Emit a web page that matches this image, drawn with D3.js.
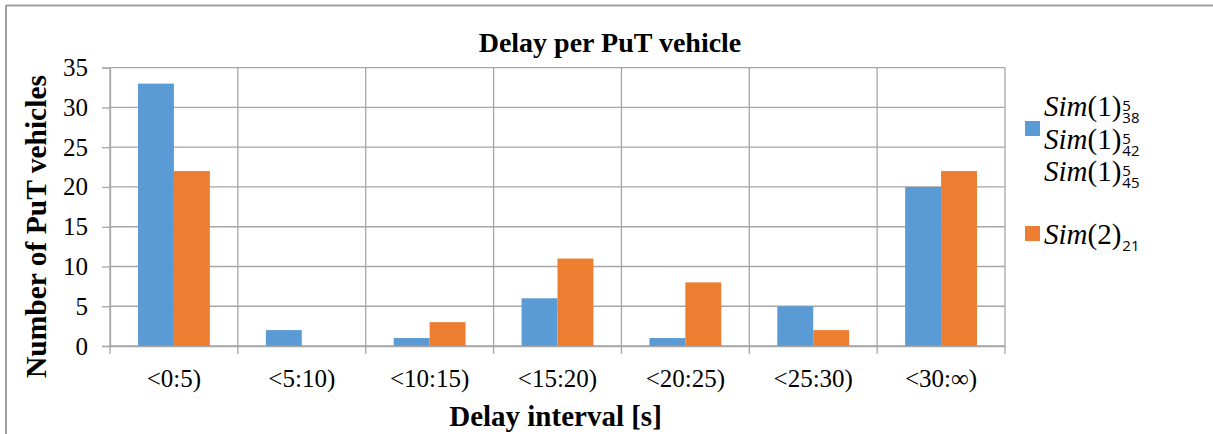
<!DOCTYPE html>
<html>
<head>
<meta charset="utf-8">
<script src="https://cdn.jsdelivr.net/npm/d3@7"></script>
<style>
  body { margin: 0; background: #fff; }
  svg { display: block; }
</style>
</head>
<body>
<div id="container"></div>
<script>
const categories = ["<0:5)", "<5:10)", "<10:15)", "<15:20)", "<20:25)", "<25:30)", "<30:\u221e)"];
const sim1Values = [33, 2, 1, 6, 1, 5, 20];
const sim2Values = [22, 0, 3, 11, 8, 2, 22];
const seriesNames = ["sim1", "sim2"];
const yTicks = [0, 5, 10, 15, 20, 25, 30, 35];

const w = 1213;
const h = 434;
const plot = { left: 110, right: 1005, top: 67.7, bottom: 346 };
const colors = { sim1: "#5b9bd5", sim2: "#ed7d31" };
const gridColor = "#a6a6a6";
const serif = "'Liberation Serif', 'Times New Roman', serif";

const svg = d3.select("#container")
              .append("svg")
              .attr("width", w)
              .attr("height", h);

// outer frame (only top and left edges are visible)
svg.append("line")
   .attr("x1", 6).attr("x2", w).attr("y1", 5.5).attr("y2", 5.5)
   .attr("stroke", "#a0a0a0").attr("stroke-width", 2);
svg.append("line")
   .attr("x1", 6).attr("x2", 6).attr("y1", 5).attr("y2", h)
   .attr("stroke", "#a0a0a0").attr("stroke-width", 2);

const x = d3.scaleBand()
            .domain(categories)
            .range([plot.left, plot.right])
            .padding(0);

const x1 = d3.scaleBand()
             .domain(seriesNames)
             .range([0, x.bandwidth()])
             .paddingInner(0)
             .paddingOuter(0.78);

const y = d3.scaleLinear()
            .domain([0, 35])
            .range([plot.bottom, plot.top]);

// horizontal gridlines
svg.append("g")
   .selectAll("line")
   .data(yTicks)
   .enter()
   .append("line")
   .attr("x1", plot.left)
   .attr("x2", plot.right)
   .attr("y1", d => y(d))
   .attr("y2", d => y(d))
   .attr("stroke", gridColor)
   .attr("stroke-width", 1.3);

// vertical gridlines at category boundaries
const bounds = categories.map(c => x(c)).concat([plot.right]);
svg.append("g")
   .selectAll("line")
   .data(bounds)
   .enter()
   .append("line")
   .attr("x1", d => d)
   .attr("x2", d => d)
   .attr("y1", plot.top)
   .attr("y2", plot.bottom + 8)
   .attr("stroke", gridColor)
   .attr("stroke-width", 1.3);

// bars
const rows = categories.map((c, i) => ({ category: c, sim1: sim1Values[i], sim2: sim2Values[i] }));

const groups = svg.append("g")
                  .selectAll("g")
                  .data(rows)
                  .enter()
                  .append("g")
                  .attr("transform", d => "translate(" + x(d.category) + ",0)");

groups.selectAll("rect")
      .data(d => seriesNames.map(s => ({ key: s, value: d[s] })))
      .enter()
      .append("rect")
      .attr("x", d => x1(d.key))
      .attr("width", x1.bandwidth())
      .attr("y", d => y(d.value))
      .attr("height", d => y(0) - y(d.value))
      .attr("fill", d => colors[d.key]);

// y axis
const yAxis = svg.append("g")
                 .attr("transform", "translate(" + plot.left + ",0)")
                 .call(d3.axisLeft(y).tickValues(yTicks).tickSize(8).tickPadding(14));
yAxis.select(".domain").attr("stroke", gridColor).attr("stroke-width", 1.3);
yAxis.selectAll(".tick line").attr("stroke", gridColor).attr("stroke-width", 1.3);
yAxis.selectAll("text")
     .style("font-family", serif)
     .style("font-size", "25px")
     .attr("fill", "#000");

// x axis labels
const xAxis = svg.append("g")
                 .attr("transform", "translate(0," + plot.bottom + ")")
                 .call(d3.axisBottom(x).tickSize(0));
xAxis.select(".domain").attr("stroke", gridColor).attr("stroke-width", 1.3);
xAxis.selectAll("text")
     .attr("y", 41)
     .attr("dy", 0)
     .style("font-family", serif)
     .style("font-size", "25px")
     .attr("fill", "#000");

// titles
svg.append("text")
   .attr("x", 610)
   .attr("y", 52)
   .attr("text-anchor", "middle")
   .style("font-family", serif)
   .style("font-weight", "bold")
   .style("font-size", "28px")
   .text("Delay per PuT vehicle");

svg.append("text")
   .attr("transform", "translate(46,226.5) rotate(-90)")
   .attr("text-anchor", "middle")
   .style("font-family", serif)
   .style("font-weight", "bold")
   .style("font-size", "29.5px")
   .text("Number of PuT vehicles");

svg.append("text")
   .attr("x", (plot.left + plot.right) / 2 - 2)
   .attr("y", 426)
   .attr("text-anchor", "middle")
   .style("font-family", serif)
   .style("font-weight", "bold")
   .style("font-size", "29px")
   .text("Delay interval [s]");

// legend
const legendSquares = [
  { key: "sim1", y: 121 },
  { key: "sim2", y: 226 }
];
svg.append("g")
   .selectAll("rect")
   .data(legendSquares)
   .enter()
   .append("rect")
   .attr("x", 1025)
   .attr("y", d => d.y)
   .attr("width", 15)
   .attr("height", 15)
   .attr("fill", d => colors[d.key]);

const legendLines = [
  { base: "Sim", arg: "(1)", sup: "5", sub: "38", y: 116 },
  { base: "Sim", arg: "(1)", sup: "5", sub: "42", y: 149 },
  { base: "Sim", arg: "(1)", sup: "5", sub: "45", y: 181 },
  { base: "Sim", arg: "(2)", sup: "", sub: "21", y: 244 }
];

const legend = svg.append("g");
legendLines.forEach(item => {
  const t = legend.append("text")
                  .attr("x", 1044)
                  .attr("y", item.y)
                  .style("font-family", serif)
                  .style("font-size", "29px");
  t.append("tspan").style("font-style", "italic").text(item.base);
  t.append("tspan").text(item.arg);
  const endX = 1044 + t.node().getComputedTextLength() + 1;
  if (item.sup) {
    legend.append("text")
          .attr("x", endX)
          .attr("y", item.y - 5)
          .style("font-family", "'Open Sans', sans-serif")
          .style("font-size", "15px")
          .text(item.sup);
  }
  legend.append("text")
        .attr("x", endX)
        .attr("y", item.y + 7)
        .style("font-family", "'Open Sans', sans-serif")
        .style("font-size", "15px")
        .text(item.sub);
});
</script>
</body>
</html>
